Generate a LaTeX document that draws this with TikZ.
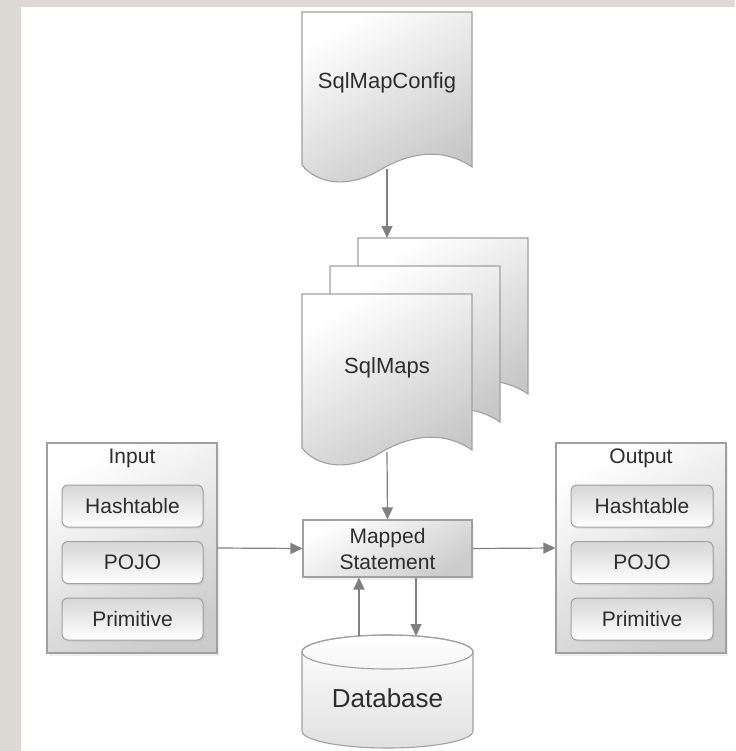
\documentclass[tikz,border=0pt]{standalone}
\usepackage{fontspec}
\setmainfont{Liberation Sans}
\usetikzlibrary{arrows.meta,shadows}
\definecolor{bgc}{RGB}{221,218,213}
\definecolor{borderc}{RGB}{160,160,160}
\definecolor{arrowc}{RGB}{128,128,128}
\definecolor{txtc}{RGB}{45,45,45}
\newcommand\docpagepath[3]{(#1,#2) -- ({#1+170},#2) -- ({#1+170},{#3+2})
  .. controls ({#1+138},{#3-20}) and ({#1+103},{#3-10}) .. ({#1+78},{#3+5})
  .. controls ({#1+48},{#3+23}) and ({#1+16},{#3+20}) .. (#1,#3) -- cycle}
\tikzset{
  edge/.style={draw=arrowc, line width=1.2pt, -{Triangle[length=12pt,width=11pt]}},
  docpage/.style={draw=borderc, line width=1.1pt, top color=white, bottom color=black!22, shading angle=30},
  panel/.style={draw=borderc, line width=1.1pt, top color=white, bottom color=black!20, shading angle=30,
    drop shadow={opacity=0.12, shadow xshift=2pt, shadow yshift=-3pt}},
  itembox/.style={draw=borderc, line width=1pt, rounded corners=6pt, top color=black!16, bottom color=white,
    minimum height=42pt, text=txtc, font=\fontsize{21}{26}\selectfont,
    drop shadow={opacity=0.12, shadow xshift=1.5pt, shadow yshift=-2pt}},
  lbl/.style={text=txtc, font=\fontsize{22}{26}\selectfont, align=center, inner sep=0pt},
}
\begin{document}
\begin{tikzpicture}[x=1pt,y=-1pt]
\useasboundingbox (0,0) rectangle (735,751);
\fill[bgc] (0,0) rectangle (735,751);
\fill[white] (21,7) rectangle (735,751);

% SqlMapConfig document
\path[docpage] \docpagepath{302}{12}{165};
\node[lbl] (cfg) at (387,83) {SqlMapConfig};
\coordinate (cfgbot) at (387,169);

% SqlMaps stack
\path[docpage] \docpagepath{358}{238}{392};
\path[docpage] \docpagepath{330}{266}{420};
\path[docpage] \docpagepath{302}{294}{448};
\node[lbl] (maps) at (387,368) {SqlMaps};
\coordinate (mapstop) at (387,238);
\coordinate (mapsbot) at (387,452);

% Mapped statement
\node[panel, minimum width=169pt, minimum height=57pt, lbl, font=\fontsize{21}{26}\selectfont, inner sep=0pt] (ms) at (387.5,548.5) {Mapped\\Statement};

% Input panel
\node[panel, minimum width=170pt, minimum height=210pt] (in) at (132,548) {};
\node[lbl, font=\fontsize{21}{26}\selectfont] (inT) at (132,458) {Input};
\node[itembox, minimum width=141pt] (in1) at (132.5,506) {Hashtable};
\node[itembox, minimum width=141pt] (in2) at (132.5,562.5) {POJO};
\node[itembox, minimum width=141pt] (in3) at (132.5,619) {Primitive};

% Output panel
\node[panel, minimum width=170pt, minimum height=210pt] (out) at (641,548) {};
\node[lbl, font=\fontsize{21}{26}\selectfont] (outT) at (641,458) {Output};
\node[itembox, minimum width=142pt] (out1) at (642,506) {Hashtable};
\node[itembox, minimum width=142pt] (out2) at (642,562.5) {POJO};
\node[itembox, minimum width=142pt] (out3) at (642,619) {Primitive};

% Database cylinder
\path[draw=borderc, line width=1.1pt, top color=white, bottom color=black!12]
  (302,652) -- (302,731) arc[start angle=180, end angle=360, x radius=85.5pt, y radius=17pt]
  -- (473,652) arc[start angle=0, end angle=180, x radius=85.5pt, y radius=17pt] -- cycle;
\draw[borderc, line width=1.1pt] (387.5,652) ellipse [x radius=85.5pt, y radius=17pt];
\node[lbl, font=\fontsize{26}{30}\selectfont] (db) at (387.5,698) {Database};
\coordinate (dbL) at (359,636);
\coordinate (dbR) at (416,636);

% Connectors
\draw[edge] (cfgbot) -- (mapstop);
\draw[edge] (mapsbot) -- (ms.north);
\draw[edge] (in.east) -- (ms.west);
\draw[edge] (ms.east) -- (out.west);
\draw[edge] (dbL) -- (dbL |- ms.south);
\draw[edge] (dbR |- ms.south) -- (dbR);
\end{tikzpicture}
\end{document}
